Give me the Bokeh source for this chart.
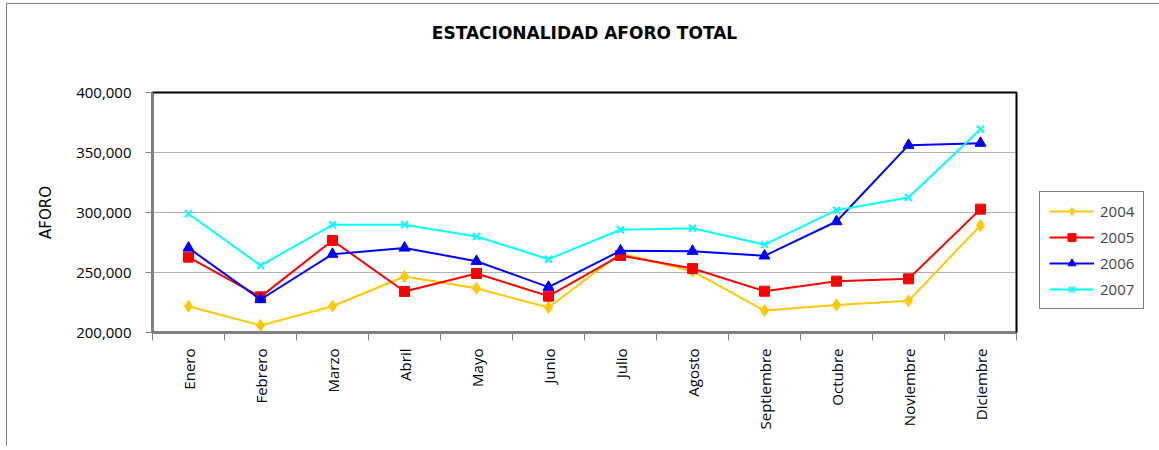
from bokeh.plotting import figure
from bokeh.models import FixedTicker, NumeralTickFormatter, LinearAxis
from bokeh.embed import file_html
from bokeh.resources import INLINE

months = ["Enero", "Febrero", "Marzo", "Abril", "Mayo", "Junio", "Julio",
          "Agosto", "Septiembre", "Octubre", "Noviembre", "Diciembre"]
v2004 = [221900, 205800, 221900, 246700, 236900, 220800, 266000, 251100, 218300, 223000, 226400, 289200]
v2005 = [262800, 229700, 276700, 234200, 249200, 230300, 264200, 253300, 234400, 242800, 244700, 302800]
v2006 = [270500, 227500, 265300, 270500, 259400, 237800, 268100, 267800, 263900, 292500, 356100, 357800]
v2007 = [299000, 255800, 289700, 289700, 280000, 261100, 285600, 286900, 273300, 301900, 312500, 369400]
y_ticks = [200000, 250000, 300000, 350000, 400000]

FONT = "Open Sans"
x = [i + 0.5 for i in range(len(months))]

p = figure(frame_width=864, frame_height=240, x_range=(0, 12), y_range=(200000, 400000),
           output_backend="svg", toolbar_location=None,
           min_border_left=145, min_border_right=140, min_border_top=88, min_border_bottom=114)
p.styles = {"border-top": "1px solid #808080", "border-left": "1px solid #808080",
            "margin-left": "6px", "margin-top": "3px"}
p.title.visible = False

p.outline_line_color = "black"
p.outline_line_width = 2

# x axis: labels at centers, ticks at boundaries
p.xaxis.ticker = FixedTicker(ticks=x, minor_ticks=list(range(13)))
p.xaxis.major_label_overrides = {xx: m for xx, m in zip(x, months)}
p.xaxis.major_tick_out = 0
p.xaxis.major_tick_in = 0
p.xaxis.minor_tick_out = 8
p.xaxis.minor_tick_in = 0
p.xaxis.minor_tick_line_color = "#808080"
p.xaxis.axis_line_color = "#808080"
p.xaxis.axis_line_width = 2
p.xaxis.major_label_orientation = 3.14159265 / 2
p.xaxis.major_label_text_font = FONT
p.xaxis.major_label_text_font_size = "15px"
p.xaxis.major_label_text_color = "black"
p.xaxis.major_label_standoff = 8

p.yaxis.ticker = FixedTicker(ticks=y_ticks)
p.yaxis.formatter = NumeralTickFormatter(format="0,0")
p.yaxis.major_tick_out = 7
p.yaxis.major_tick_in = 0
p.yaxis.minor_tick_line_color = None
p.yaxis.major_tick_line_color = "#808080"
p.yaxis.axis_line_color = "#808080"
p.yaxis.axis_line_width = 2
p.yaxis.major_label_text_font = FONT
p.yaxis.major_label_text_font_size = "15px"
p.yaxis.major_label_text_color = "black"
p.yaxis.major_label_standoff = 14
p.yaxis.axis_label = "AFORO"
p.yaxis.axis_label_text_font = "DejaVu Sans"
p.yaxis.axis_label_text_font_size = "15px"
p.yaxis.axis_label_text_font_style = "normal"
p.yaxis.axis_label_text_color = "black"
p.yaxis.axis_label_standoff = 18

# title as label of an invisible top axis
top = LinearAxis(ticker=FixedTicker(ticks=[]), axis_line_color=None,
                 major_tick_out=0, major_tick_in=0, minor_tick_out=0, minor_tick_in=0,
                 major_label_text_font_size="0px", major_label_standoff=0,
                 axis_label="ESTACIONALIDAD AFORO TOTAL", axis_label_standoff=50,
                 axis_label_text_font="DejaVu Sans", axis_label_text_font_style="bold",
                 axis_label_text_font_size="17px", axis_label_text_color="black")
p.add_layout(top, "above")

p.xgrid.grid_line_color = None
p.ygrid.ticker = FixedTicker(ticks=[250000, 300000, 350000])
p.ygrid.grid_line_color = "#606060"
p.ygrid.grid_line_dash = "1 1"
p.ygrid.grid_line_width = 1

series = [
    ("2004", v2004, "#FFC800", "diamond", 12),
    ("2005", v2005, "#FF0000", "square", 10),
    ("2006", v2006, "#0000FF", "triangle", 11),
    ("2007", v2007, "#00FFFF", "x", 10),
]
for name, vals, col, mk, sz in series:
    p.line(x, vals, line_color=col, line_width=2, legend_label=name)
    if mk == "x":
        p.scatter(x, vals, marker=mk, size=sz, line_color=col, line_width=2, legend_label=name)
    else:
        p.scatter(x, vals, marker=mk, size=sz, fill_color=col, line_color=col, legend_label=name)

leg = p.legend[0]
p.center.remove(leg)
p.add_layout(leg, "right")
leg.location = "bottom_left"
leg.border_line_color = "black"
leg.border_line_width = 1.5
leg.background_fill_alpha = 1
leg.label_text_font = FONT
leg.label_text_font_size = "15px"
leg.glyph_width = 45
leg.glyph_height = 20
leg.label_height = 20
leg.label_standoff = 6
leg.spacing = 6
leg.padding = 9
leg.margin = 23

open("out.html", "w").write(file_html(p, INLINE))
